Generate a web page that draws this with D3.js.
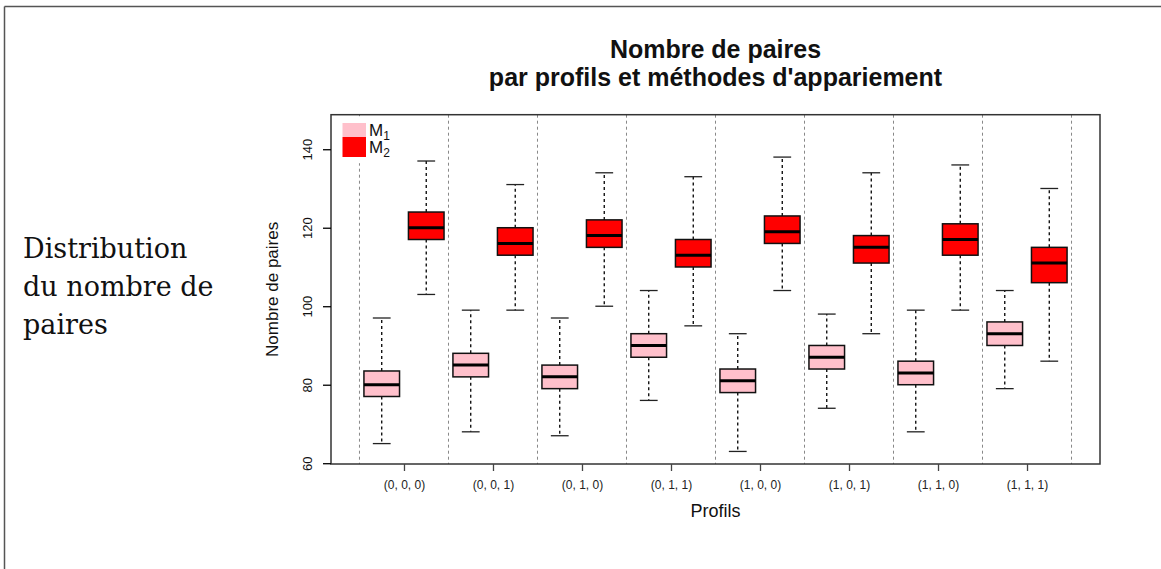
<!DOCTYPE html>
<html>
<head>
<meta charset="utf-8">
<script src="https://cdn.jsdelivr.net/npm/d3@7"></script>
<style>
  html, body { margin: 0; padding: 0; background: #fff; }
  svg { display: block; }
</style>
</head>
<body>
<svg id="chart" width="1161" height="569"></svg>
<script>
// ---- Data ----
const categories = ["(0, 0, 0)", "(0, 0, 1)", "(0, 1, 0)", "(0, 1, 1)", "(1, 0, 0)", "(1, 0, 1)", "(1, 1, 0)", "(1, 1, 1)"];
const methods = ["M1", "M2"];
const m1Min = [65, 68, 67, 76, 63, 74, 68, 79];
const m1Q1  = [77, 82, 79, 87, 78, 84, 80, 90];
const m1Med = [80, 85, 82, 90, 81, 87, 83, 93];
const m1Q3  = [83.5, 88, 85, 93, 84, 90, 86, 96];
const m1Max = [97, 99, 97, 104, 93, 98, 99, 104];
const m2Min = [103, 99, 100, 95, 104, 93, 99, 86];
const m2Q1  = [117, 113, 115, 110, 116, 111, 113, 106];
const m2Med = [120, 116, 118, 113, 119, 115, 117, 111];
const m2Q3  = [124, 120, 122, 117, 123, 118, 121, 115];
const m2Max = [137, 131, 134, 133, 138, 134, 136, 130];
const yTicks = [60, 80, 100, 120, 140];

const colors = { M1: "#FFC0CB", M2: "#FF0000" };

// build box table
const boxes = [];
categories.forEach((c, g) => {
  boxes.push({ cat: c, m: "M1", pos: 2 * g + 1, min: m1Min[g], q1: m1Q1[g], med: m1Med[g], q3: m1Q3[g], max: m1Max[g] });
  boxes.push({ cat: c, m: "M2", pos: 2 * g + 2, min: m2Min[g], q1: m2Q1[g], med: m2Med[g], q3: m2Q3[g], max: m2Max[g] });
});

const svg = d3.select("#chart");
const L = 331, R = 1100, T = 114.7, B = 464;

const x = d3.scaleLinear().domain([-0.14, 17.14]).range([L, R]);
const y = d3.scaleLinear().domain([59.8, 148.8]).range([B, T]);

// outer frame (top and left)
svg.append("line").attr("x1", 4.5).attr("x2", 1161).attr("y1", 6.5).attr("y2", 6.5)
  .attr("stroke", "#555").attr("stroke-width", 1.5);
svg.append("line").attr("x1", 4.5).attr("x2", 4.5).attr("y1", 6.5).attr("y2", 569)
  .attr("stroke", "#555").attr("stroke-width", 1.5);

// left text
const leftText = svg.append("text").attr("font-family", "'DejaVu Serif', serif").attr("font-size", 27).attr("fill", "#111");
["Distribution", "du nombre de", "paires"].forEach((t, i) => {
  leftText.append("tspan").attr("x", 23).attr("y", 258 + i * 38).text(t);
});

// divider dashed lines
const dividers = d3.range(0, 9).map(i => 0.5 + 2 * i);
svg.append("g").selectAll("line").data(dividers).join("line")
  .attr("x1", d => x(d)).attr("x2", d => x(d))
  .attr("y1", T).attr("y2", B)
  .attr("stroke", "#888").attr("stroke-width", 1).attr("stroke-dasharray", "3,3");

// boxes
const bw = 0.8, sw = 0.4;
const g = svg.append("g");
const bg = g.selectAll("g.box").data(boxes).join("g").attr("class", "box");
// whiskers
bg.append("line").attr("x1", d => x(d.pos)).attr("x2", d => x(d.pos))
  .attr("y1", d => y(d.q3)).attr("y2", d => y(d.max))
  .attr("stroke", "#000").attr("stroke-width", 1.3).attr("stroke-dasharray", "3,3");
bg.append("line").attr("x1", d => x(d.pos)).attr("x2", d => x(d.pos))
  .attr("y1", d => y(d.q1)).attr("y2", d => y(d.min))
  .attr("stroke", "#000").attr("stroke-width", 1.3).attr("stroke-dasharray", "3,3");
// staples
bg.append("line").attr("x1", d => x(d.pos - sw / 2)).attr("x2", d => x(d.pos + sw / 2))
  .attr("y1", d => y(d.max)).attr("y2", d => y(d.max))
  .attr("stroke", "#222").attr("stroke-width", 1.3);
bg.append("line").attr("x1", d => x(d.pos - sw / 2)).attr("x2", d => x(d.pos + sw / 2))
  .attr("y1", d => y(d.min)).attr("y2", d => y(d.min))
  .attr("stroke", "#222").attr("stroke-width", 1.3);
// box
bg.append("rect").attr("x", d => x(d.pos - bw / 2)).attr("width", d => x(d.pos + bw / 2) - x(d.pos - bw / 2))
  .attr("y", d => y(d.q3)).attr("height", d => y(d.q1) - y(d.q3))
  .attr("fill", d => colors[d.m]).attr("stroke", "#111").attr("stroke-width", 1.5);
// median
bg.append("line").attr("x1", d => x(d.pos - bw / 2)).attr("x2", d => x(d.pos + bw / 2))
  .attr("y1", d => y(d.med)).attr("y2", d => y(d.med))
  .attr("stroke", "#000").attr("stroke-width", 3);

// plot frame
svg.append("rect").attr("x", L).attr("y", T).attr("width", R - L).attr("height", B - T)
  .attr("fill", "none").attr("stroke", "#333").attr("stroke-width", 1.5);

// y axis
const yAxis = svg.append("g").attr("transform", `translate(${L},0)`)
  .call(d3.axisLeft(y).tickValues(yTicks).tickSize(8).tickPadding(0).tickFormat(d3.format("d")));
yAxis.select(".domain").remove();
yAxis.selectAll(".tick line").attr("stroke", "#000").attr("stroke-width", 1.3);
yAxis.selectAll(".tick text")
  .attr("font-family", "'Liberation Sans', Arial, sans-serif").attr("font-size", 13).attr("fill", "#111")
  .attr("transform", "rotate(-90)").attr("x", 0).attr("y", -19).attr("dy", 0)
  .attr("text-anchor", "middle");

// x axis
const xAxis = svg.append("g").attr("transform", `translate(0,${B})`)
  .call(d3.axisBottom(x).tickValues(categories.map((c, i) => 2 * i + 1.5))
    .tickFormat((d, i) => categories[i]).tickSize(7).tickPadding(0));
xAxis.select(".domain").remove();
xAxis.selectAll(".tick line").attr("stroke", "#444").attr("stroke-width", 1.3);
xAxis.selectAll(".tick text")
  .attr("font-family", "'Liberation Sans', Arial, sans-serif").attr("font-size", 12).attr("fill", "#222")
  .attr("y", 25).attr("dy", 0);

// axis titles
svg.append("text").attr("x", (L + R) / 2).attr("y", 517).attr("text-anchor", "middle")
  .attr("font-family", "'Liberation Sans', Arial, sans-serif").attr("font-size", 18).attr("fill", "#111")
  .text("Profils");
svg.append("text").attr("transform", `translate(278,${(T + B) / 2}) rotate(-90)`).attr("text-anchor", "middle")
  .attr("font-family", "'Liberation Sans', Arial, sans-serif").attr("font-size", 17).attr("fill", "#111")
  .text("Nombre de paires");

// title
const title = svg.append("text").attr("text-anchor", "middle")
  .attr("font-family", "'Liberation Sans', Arial, sans-serif").attr("font-size", 25).attr("font-weight", "bold").attr("fill", "#111");
title.append("tspan").attr("x", (L + R) / 2).attr("y", 58).text("Nombre de paires");
title.append("tspan").attr("x", (L + R) / 2).attr("y", 86).text("par profils et méthodes d'appariement");

// legend
const lg = svg.append("g");
lg.append("rect").attr("x", L + 1).attr("y", T + 1.5).attr("width", 70).attr("height", 47).attr("fill", "#fff");
methods.forEach((m, i) => {
  const y0 = i === 0 ? 123 : 137;
  const h = i === 0 ? 14 : 20;
  lg.append("rect").attr("x", 342.5).attr("y", y0).attr("width", 23.5).attr("height", h).attr("fill", colors[m]);
  const t = lg.append("text").attr("x", 369).attr("y", i === 0 ? 136 : 153)
    .attr("font-family", "'Liberation Sans', Arial, sans-serif").attr("font-size", 17).attr("fill", "#111");
  t.append("tspan").text("M");
  t.append("tspan").attr("font-size", 12).attr("dy", 3.5).text(String(i + 1));
});
</script>
</body>
</html>
